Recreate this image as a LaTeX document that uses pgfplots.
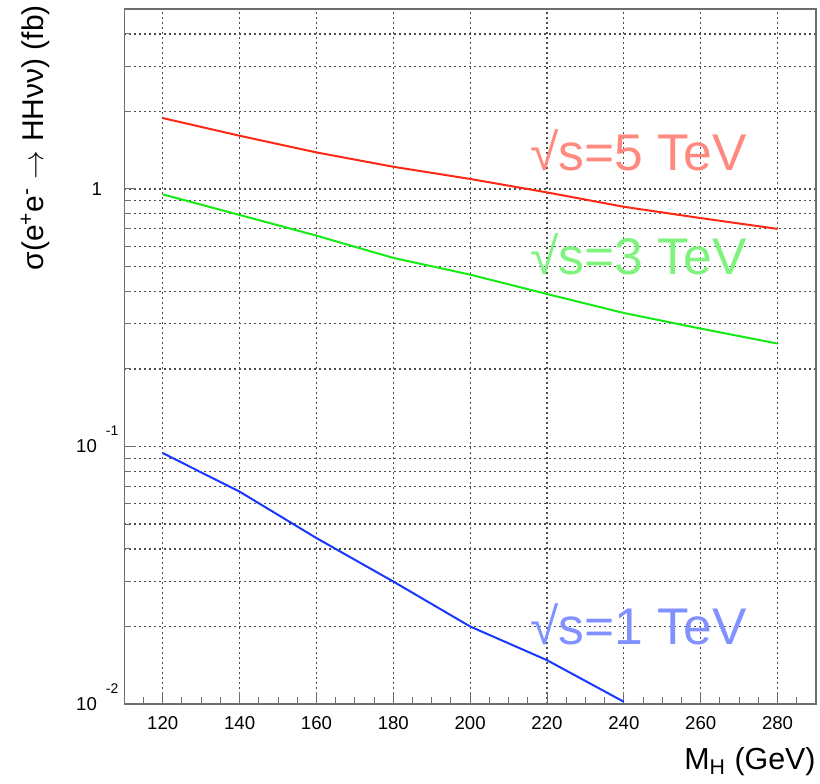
\documentclass[border=0pt]{standalone}
\usepackage{fontspec}
\setmainfont{Liberation Sans}
\usepackage{pgfplots}
\pgfplotsset{compat=1.18}
\usepackage{xcolor}
\definecolor{rootred}{RGB}{255,40,20}
\definecolor{rootgreen}{RGB}{20,235,20}
\definecolor{rootblue}{RGB}{25,55,255}
\definecolor{framegray}{RGB}{110,110,110}

\pgfplotstableread{
M      s5     s3     s1
120    1.886  0.953  0.0943
140    1.61   0.793  0.0668
160    1.387  0.659  0.0441
180    1.22   0.540  0.0299
200    1.094  0.465  0.0200
220    0.97   0.391  0.0148
240    0.853  0.330  0.0102
260    0.771  0.287  nan
280    0.700  0.251  nan
}\xsec

\newcommand{\expo}[1]{\rlap{\hspace{4.5pt}\raisebox{8.5pt}[0pt][0pt]{\fontsize{7}{8}\selectfont #1}}}

\begin{document}
\begin{tikzpicture}
\useasboundingbox (-62.15pt,-39.5pt) rectangle (347.85pt,352pt);
\begin{axis}[
    at={(0,0)}, anchor=south west,
    scale only axis,
    width=345.85pt, height=347.5pt,
    ymode=log,
    xmin=110, xmax=290,
    ymin=0.01, ymax=5,
    xtick={100,120,...,300},
    xticklabels={100,120,140,160,180,200,220,240,260,280,300},
    minor x tick num=3,
    ytick={0.01,0.1,1,10},
    yticklabels={10\expo{-2},10\expo{-1},1\kern-2.5pt,10},
    xtick pos=bottom, ytick pos=left,
    tick align=inside,
    major tick length=6pt, minor tick length=3.5pt,
    every tick/.style={framegray, line width=0.5pt},
    axis line style={framegray, line width=0.6pt},
    xmajorgrids, ymajorgrids, yminorgrids,
    major grid style={black!70, line width=0.55pt, dash pattern=on 1pt off 1.5pt},
    minor grid style={black!70, line width=0.55pt, dash pattern=on 1pt off 1.5pt},
    /pgf/number format/assume math mode=true,
    ticklabel style={font=\fontsize{9.3}{11}\selectfont},
    xticklabel style={yshift=-2.5pt},
    yticklabel style={xshift=-10.15pt},
    xlabel={M\textsubscript{H} (GeV)},
    xlabel style={font=\fontsize{15.2}{18}\selectfont, at={(axis description cs:1,-0.062)}, anchor=north east, inner sep=0pt},
    ylabel={σ(e\textsuperscript{+}e\textsuperscript{-} $\rightarrow$ HHνν) (fb)},
    ylabel style={font=\fontsize{15}{18}\selectfont, at={(axis description cs:-0.129,1.006)}, anchor=east, inner sep=0pt},
    clip=true,
]
\addplot[rootred, line width=1pt] table[x=M, y=s5] {\xsec};
\addplot[rootgreen, line width=1pt] table[x=M, y=s3] {\xsec};
\addplot[rootblue, line width=1pt, unbounded coords=discard] table[x=M, y=s1] {\xsec};
\node[anchor=base west, inner sep=0pt, text=rootred!55, font=\fontsize{25.8}{30}\selectfont] at (axis cs:215.6,1.178) {√s=5 TeV};
\node[anchor=base west, inner sep=0pt, text=rootgreen!55, font=\fontsize{25.8}{30}\selectfont] at (axis cs:215.6,0.465) {√s=3 TeV};
\node[anchor=base west, inner sep=0pt, text=rootblue!55, font=\fontsize{25.8}{30}\selectfont] at (axis cs:215.6,0.01698) {√s=1 TeV};
\end{axis}
\end{tikzpicture}
\end{document}
